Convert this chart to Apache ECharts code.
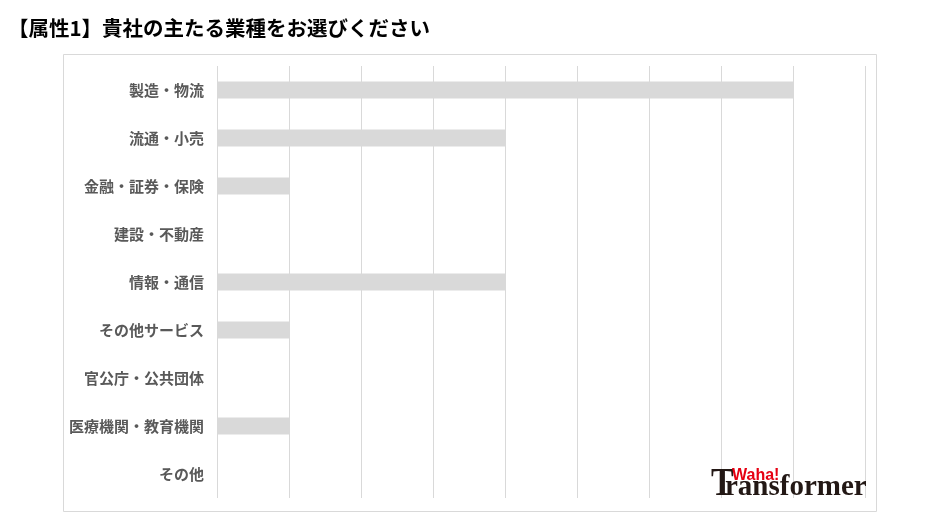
<!DOCTYPE html>
<html><head><meta charset="utf-8">
<script src="https://cdn.jsdelivr.net/npm/echarts@6/dist/echarts.min.js"></script>
<style>html,body{margin:0;padding:0;background:#fff}#c{width:934px;height:518px}</style>
</head><body><div id="c"></div>
<script>
const categories = ['製造・物流','流通・小売','金融・証券・保険','建設・不動産','情報・通信','その他サービス','官公庁・公共団体','医療機関・教育機関','その他'];
const values = [8,4,1,0,4,1,0,1,0];
const titleText = '【属性1】貴社の主たる業種をお選びください';

const chart = echarts.init(document.getElementById('c'));
chart.setOption({
  backgroundColor:'#fff',
  animation:false,
  title:{text:titleText,left:3,top:13,textStyle:{fontFamily:'Noto Sans CJK JP',fontSize:20.5,fontWeight:'bold',color:'#000'}},
  grid:{left:217,right:69,top:66,height:432},
  xAxis:{type:'value',min:0,max:9,interval:1,
    axisLabel:{show:false},axisTick:{show:false},axisLine:{show:false},
    splitLine:{show:true,lineStyle:{color:'#d9d9d9',width:1}}},
  yAxis:{type:'category',data:categories,inverse:true,
    axisLine:{show:false},axisTick:{show:false},
    axisLabel:{margin:13,fontFamily:'Noto Sans CJK JP',fontSize:15,fontWeight:'bold',color:'#595959'}},
  series:[{type:'bar',data:values,barWidth:17,itemStyle:{color:'#d9d9d9'},silent:true}],
  graphic:[
    {type:'rect',shape:{x:63.5,y:54.5,width:813,height:457},style:{fill:'none',stroke:'#d9d9d9',lineWidth:1},z:-1},
    {type:'text',x:725,y:487.5,z:100,style:{text:'ransformer',fontFamily:'Liberation Serif',fontSize:29,fontWeight:'bold',fill:'#231815',verticalAlign:'middle'}},
    {type:'text',x:711,y:485,scaleX:0.85,z:101,style:{text:'T',fontFamily:'Liberation Serif',fontSize:40,fontWeight:'bold',fill:'#231815',verticalAlign:'middle'}},
    {type:'text',x:732,y:476,z:102,style:{text:'Waha!',fontFamily:'Liberation Sans',fontSize:16,fontWeight:'bold',fill:'#e60012',verticalAlign:'middle'}}
  ]
});
</script></body></html>
